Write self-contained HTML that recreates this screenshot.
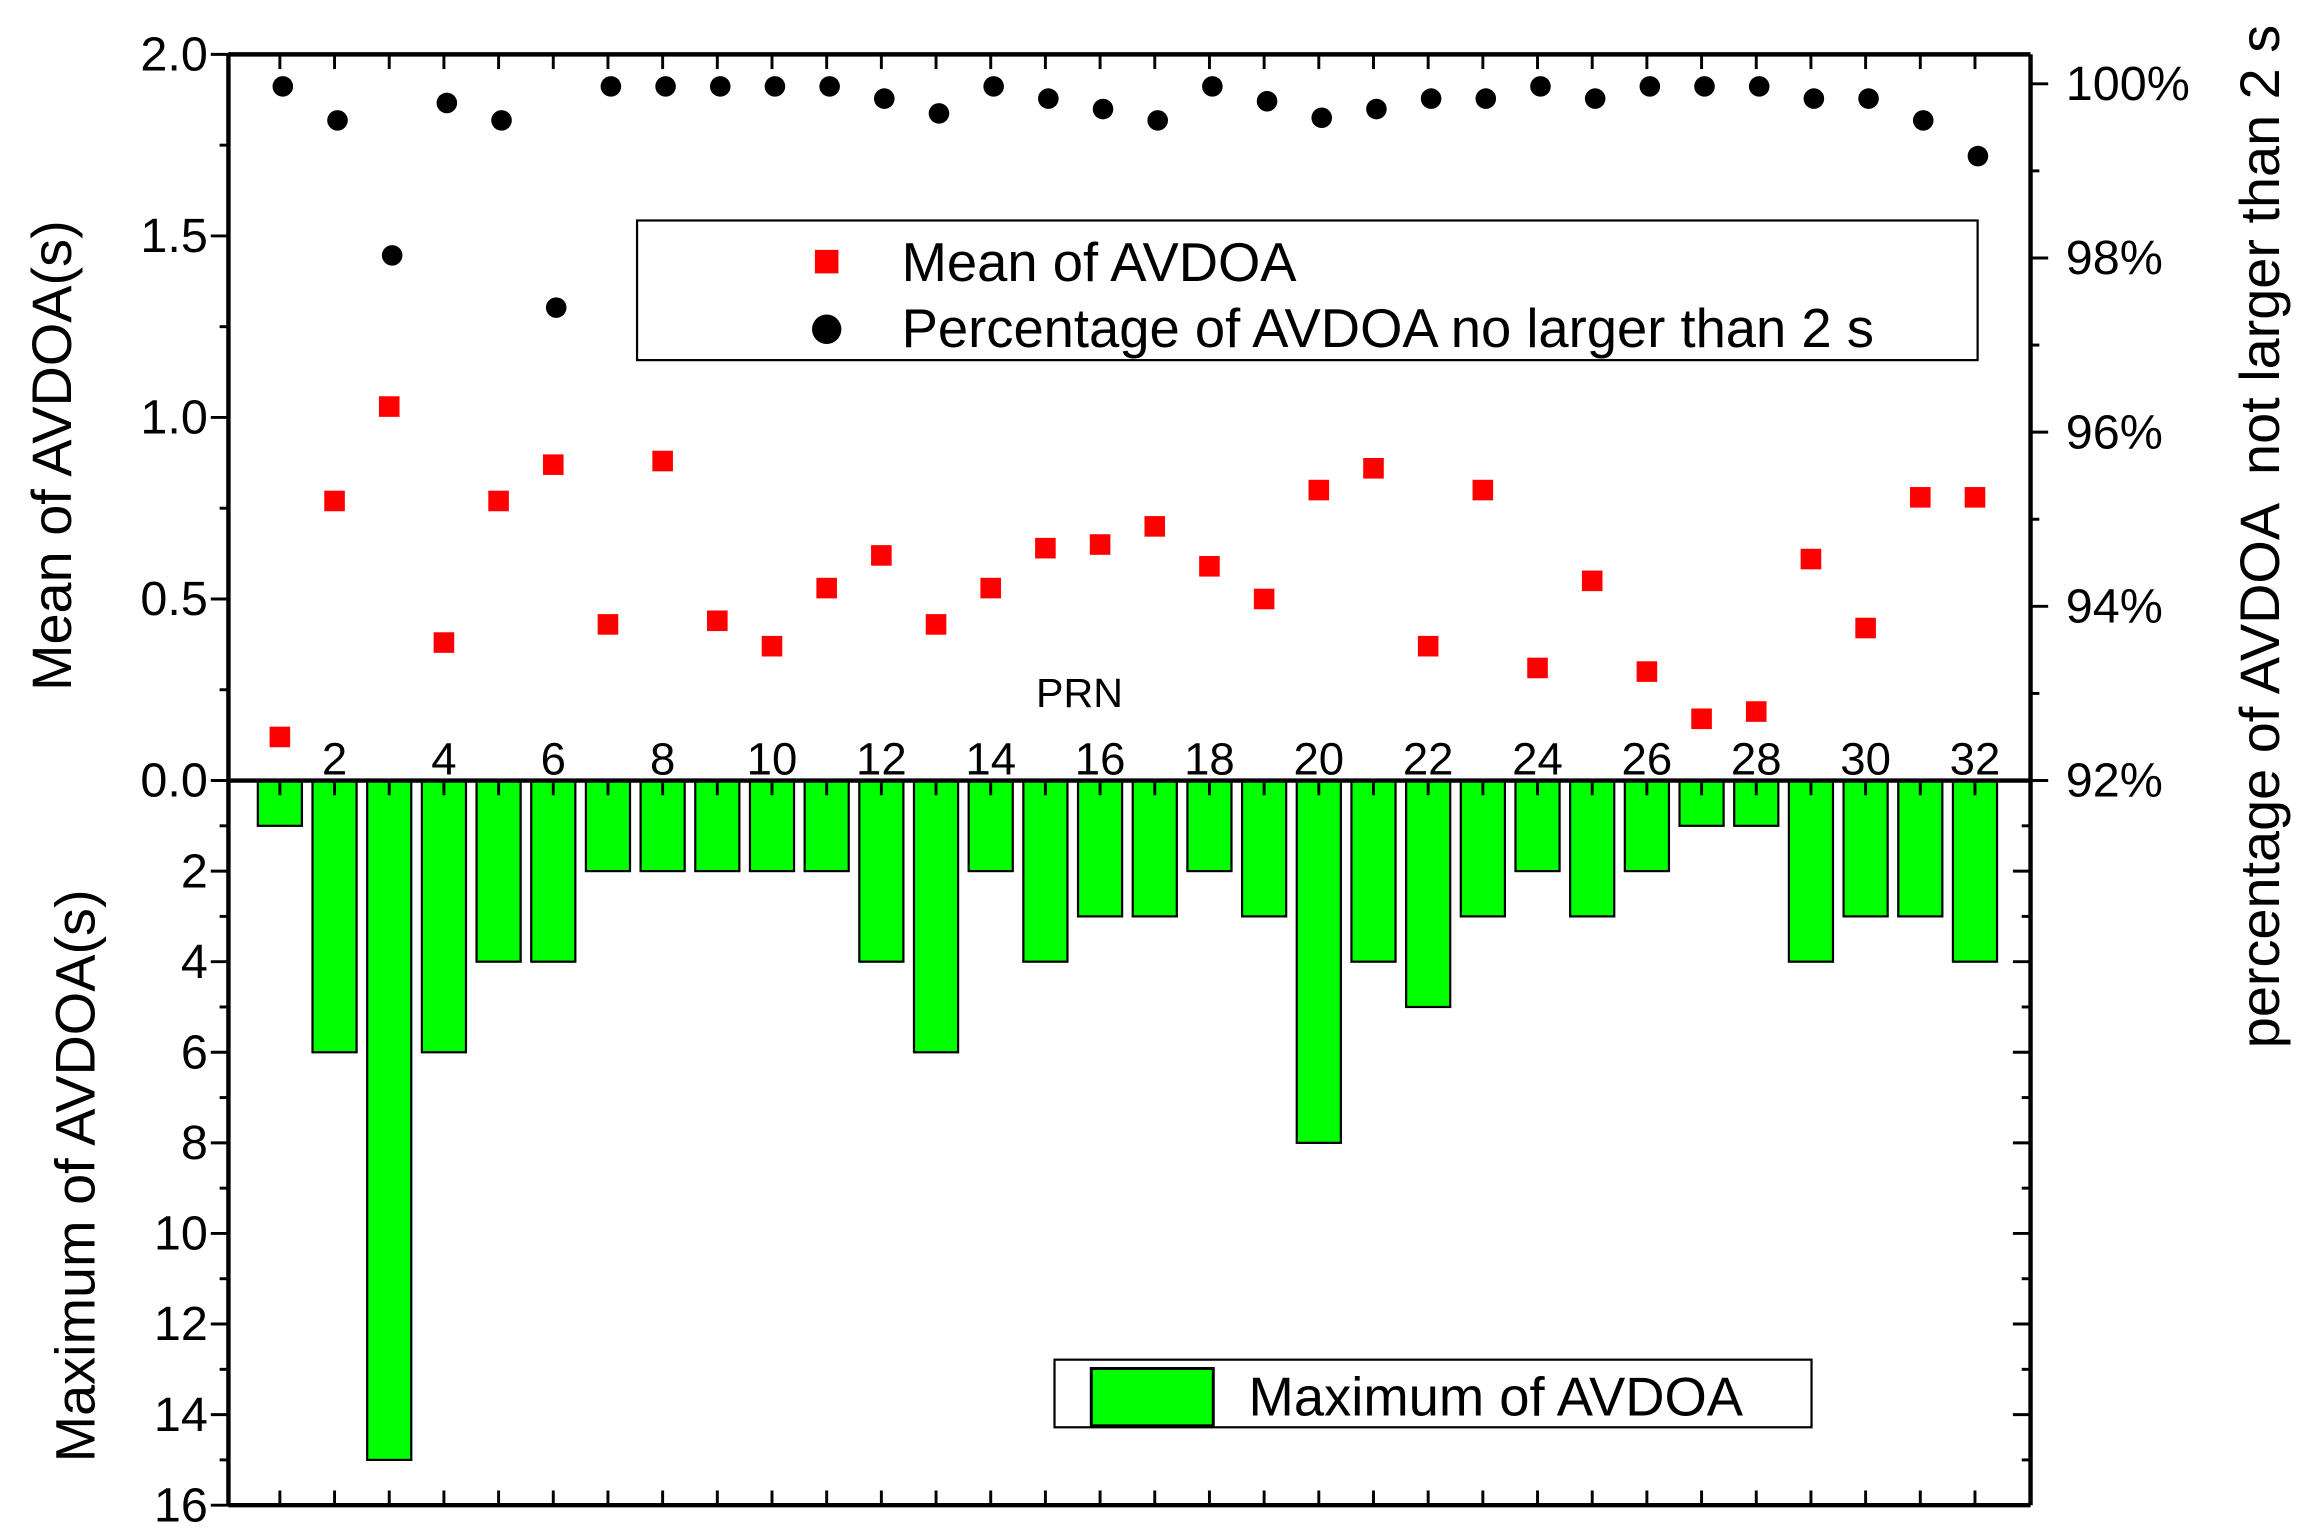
<!DOCTYPE html>
<html><head><meta charset="utf-8"><style>html,body{margin:0;padding:0;background:#fff}svg{display:block}text{font-family:"Liberation Sans",Arial,sans-serif;fill:#000}</style></head>
<body>
<svg id="chart" width="2306" height="1539" viewBox="0 0 1568 1047" xmlns="http://www.w3.org/2000/svg">
<g id="g"></g>
</svg>
<script>
const prn = [1,2,3,4,5,6,7,8,9,10,11,12,13,14,15,16,17,18,19,20,21,22,23,24,25,26,27,28,29,30,31,32];
const meanVals = [0.12,0.77,1.03,0.38,0.77,0.87,0.43,0.88,0.44,0.37,0.53,0.62,0.43,0.53,0.64,0.65,0.70,0.59,0.50,0.80,0.86,0.37,0.80,0.31,0.55,0.30,0.17,0.19,0.61,0.42,0.78,0.78];
const pctVals = [99.97,99.58,98.03,99.78,99.58,97.43,99.97,99.97,99.97,99.97,99.97,99.83,99.66,99.97,99.83,99.71,99.58,99.97,99.8,99.61,99.71,99.83,99.83,99.97,99.83,99.97,99.97,99.97,99.83,99.83,99.58,99.17];
const maxVals = [1,6,15,6,4,4,2,2,2,2,2,4,6,2,4,3,3,2,3,8,4,5,3,2,3,2,1,1,4,3,3,4];
const xTickLabels = [2,4,6,8,10,12,14,16,18,20,22,24,26,28,30,32];
const meanTicks = ["0.0","0.5","1.0","1.5","2.0"];
const pctTicks = [92,94,96,98,100];
const maxTicks = [2,4,6,8,10,12,14,16];

const L=155,R=1381,T=37,Z=531,B=1024;
const xs = p => 190 + (p-1)*37.2;
const yMean = v => Z - v*(Z-T)/2;
const yPct = v => 57 + (100-v)*59.25;
const yMax = v => Z + v*(B-Z)/16;
const NS='http://www.w3.org/2000/svg';
const g=document.getElementById('g');
function mk(tag,attrs,parent){const e=document.createElementNS(NS,tag);for(const k in attrs)e.setAttribute(k,attrs[k]);(parent||g).appendChild(e);return e;}
function line(x1,y1,x2,y2,w){return mk('line',{x1,y1,x2,y2,stroke:'#000','stroke-width':w||2});}

prn.forEach((p,i)=>{
  const r=mk('rect',{x:xs(p)-15,y:Z,width:30,height:yMax(maxVals[i])-Z,fill:'#00ff00',stroke:'#000','stroke-width':1.5});
  
  
});
let a;
a=line(L,T,R,T,3);
a=line(L,T,L,B,3);
a=line(R,T,R,B,3);
a=line(L,B,R,B,3);
a=line(L,Z,R,Z,3);
prn.forEach(p=>{line(xs(p),T,xs(p),T+10,2);line(xs(p),B,xs(p),B-10,2);line(xs(p),Z,xs(p),Z+10,2);});
xTickLabels.forEach(v=>{const t=mk('text',{x:xs(v),y:527,'font-size':31,'text-anchor':'middle'});t.textContent=v;
  });
for(let v=0;v<=2.001;v+=0.25){const y=yMean(v);line(L-(Math.abs(v*2-Math.round(v*2))<0.01?12:6),y,L,y,2);}
meanTicks.forEach(s=>{const t=mk('text',{x:141,y:yMean(+s)+11,'font-size':33,'text-anchor':'end'});t.textContent=s;
  });
for(let v=1;v<=16;v++){const y=yMax(v);line(L-(v%2==0?12:6),y,L,y,2);line(R,y,R-(v%2==0?12:6),y,2);}
maxTicks.forEach(v=>{const t=mk('text',{x:141,y:yMax(v)+11,'font-size':33,'text-anchor':'end'});t.textContent=v;
  });
for(let v=92;v<=100;v++){const y=yPct(v);line(R,y,R+(v%2==0?12:6),y,2);}
pctTicks.forEach(v=>{const t=mk('text',{x:1405,y:yPct(v)+11,'font-size':33});t.textContent=v+'%';
  });
prn.forEach((p,i)=>{
  const s=mk('rect',{x:xs(p)-7,y:yMean(meanVals[i])-7,width:14,height:14,fill:'#ff0000'});
  
  
  const c=mk('circle',{cx:xs(p)+2,cy:yPct(pctVals[i]),r:7,fill:'#000'});
  
  
});
</script>
<script>
const s=document.getElementById('chart');
s.insertAdjacentHTML('beforeend',`
<text x="734" y="481" font-size="28" text-anchor="middle">PRN</text>
<text transform="translate(48,310) rotate(-90)" font-size="38" text-anchor="middle">Mean of AVDOA(s)</text>
<text transform="translate(64,800) rotate(-90)" font-size="38" text-anchor="middle">Maximum of AVDOA(s)</text>
<text transform="translate(1550,365) rotate(-90)" font-size="38" text-anchor="middle" xml:space="preserve">percentage of AVDOA  not larger than 2 s</text>
<g>
<rect x="433" y="150" width="912" height="95" fill="#fff" stroke="#000" stroke-width="1.5"/>
<rect x="554" y="170" width="16" height="16" fill="#ff0000"/>
<text x="613" y="191" font-size="37">Mean of AVDOA</text>
<circle cx="562" cy="224" r="10" fill="#000"/>
<text x="613" y="236" font-size="37">Percentage of AVDOA no larger than 2 s</text>
</g>
<g>
<rect x="717" y="925" width="515" height="46" fill="#fff" stroke="#000" stroke-width="1.5"/>
<rect x="742" y="931" width="83" height="39" fill="#00ff00" stroke="#000" stroke-width="2"/>
<text x="849" y="963" font-size="37">Maximum of AVDOA</text>
</g>`);
</script>
</body></html>
